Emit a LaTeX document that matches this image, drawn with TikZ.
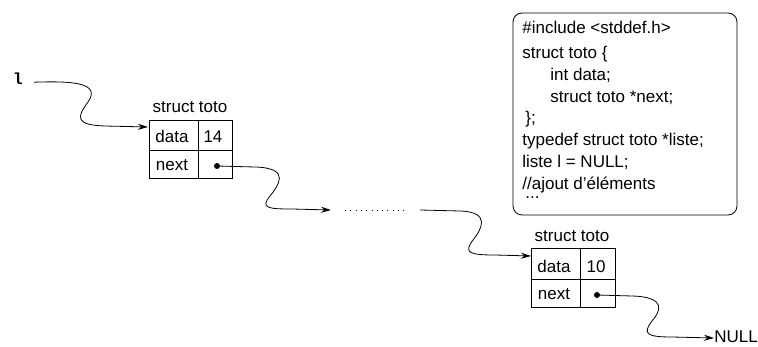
\documentclass[tikz,border=0pt]{standalone}
\usepackage{fontspec}
\setmainfont{Liberation Sans}
\setmonofont{Liberation Mono}
\usetikzlibrary{arrows.meta}

\tikzset{
  txt/.style={font=\fontsize{17}{19}\selectfont, inner sep=0pt, anchor=base},
  code/.style={txt, anchor=base west},
  wavy/.style={-{Stealth[length=10pt,width=6pt]}},
}

\begin{document}
\begin{tikzpicture}[x=1pt,y=-1pt,line width=.8pt]
\useasboundingbox (0,0) rectangle (758,347);

% the pointer l
\node[font=\fontsize{16}{19}\ttfamily\bfseries, inner sep=0pt, anchor=base] (l) at (18,85) {l};

% first element
\node[txt] (s1) at (190,113) {struct toto};
\draw (149,120) rectangle (232,178);
\draw (149,150) -- (232,150); \draw (198,120) -- (198,178);
\node[txt] (d1) at (172,143) {data};
\node[txt] (v1) at (213,143) {14};
\node[txt] (n1) at (172,171) {next};
\fill (217,166) circle (3) coordinate (p1);
\coordinate (in1) at (148,127);

% the dots
\draw[line width=.7pt, dash pattern=on .9pt off 4.4pt] (345,210) -- (404,210);
\coordinate (gap1) at (331,210);
\coordinate (gap2) at (420,210);

% last element
\node[txt] (s2) at (572,242) {struct toto};
\draw (531,248) rectangle (615,307);
\draw (531,279) -- (615,279); \draw (580,248) -- (580,307);
\node[txt] (d2) at (554,273) {data};
\node[txt] (v2) at (596,273) {10};
\node[txt] (n2) at (554,300) {next};
\fill (597,295) circle (3) coordinate (p2);
\coordinate (in2) at (531,256);

\node[txt, anchor=base west] (null) at (714,343) {NULL};

% the links
\draw[wavy] ([xshift=11pt,yshift=-3pt]l.east) .. controls (70,81) and (102,82) .. (88,102)
  .. controls (76,118) and (76,125) .. (105,126) -- (in1);
\draw[wavy] (p1) -- (255,167) .. controls (292,168) and (278,186) .. (270,196)
  .. controls (260,208) and (268,209) .. (292,209) -- (gap1);
\draw[wavy] (gap2) -- (460,211) .. controls (492,212) and (481,230) .. (473,240)
  .. controls (463,253) and (470,255) .. (495,255) -- (in2);
\draw[wavy] (p2) -- (632,296) .. controls (668,297) and (660,312) .. (652,321)
  .. controls (642,334) and (647,337) .. (672,337) -- (null.west |- 0,338);

% the code
\draw[rounded corners=9pt] (513,13) rectangle (737,215);
\node[code] (c1) at (522,34) {\#include <stddef.h>};
\node[code] (c2) at (522,59) {struct toto \{};
\node[code] (c3) at (550,81) {int data;};
\node[code] (c4) at (550,103) {struct toto *next;};
\node[code] (c5) at (525,124) {\};};
\node[code] (c6) at (522,146) {typedef struct toto *liste;};
\node[code] (c7) at (522,168) {liste l = NULL;};
\node[code] (c8) at (522,190) {//ajout d’éléments};
\node[code] (c9) at (525,199) {...};
\end{tikzpicture}
\end{document}
